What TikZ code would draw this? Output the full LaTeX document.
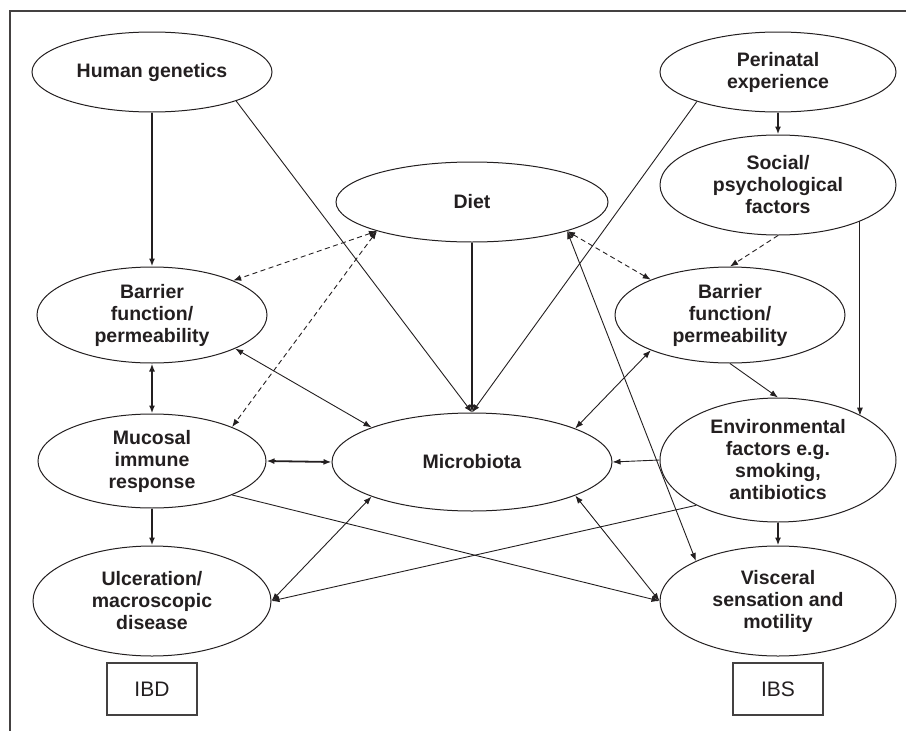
\documentclass[tikz,border=0pt]{standalone}
\usepackage{fontspec}
\setmainfont{Liberation Sans}
\usetikzlibrary{shapes.geometric,arrows.meta}
\definecolor{ink}{HTML}{231F20}
\begin{document}
\begin{tikzpicture}[x=1pt,y=-1pt,
  ell/.style={ellipse, draw=ink, line width=1pt, inner sep=0pt, align=center, text=ink,
    font=\bfseries\fontsize{19.5}{22}\selectfont},
  lbox/.style={rectangle, draw=ink!85, line width=1.1pt, minimum width=90pt, minimum height=52pt,
    inner sep=0pt, text=ink, font=\fontsize{21}{24}\selectfont},
  thn/.style={draw=ink, line width=0.9pt},
  thk/.style={draw=ink, line width=1.8pt},
  dsh/.style={draw=ink, line width=0.9pt, dash pattern=on 5pt off 3.5pt},
  tip/.tip={Latex[length=8pt,width=6pt]},
  >={Latex[length=8pt,width=6pt]}]
\useasboundingbox (0,0) rectangle (906,731);
\draw[line width=2pt, draw=ink!85] (10,731) -- (10,11) -- (906,11);

\node[ell, minimum width=240pt, minimum height=80pt] (hg) at (152,72) {Human genetics};
\node[ell, minimum width=236pt, minimum height=80pt] (peri) at (778,72) {Perinatal\\experience};
\node[ell, minimum width=236pt, minimum height=100pt] (soc) at (778,185) {Social/\\psychological\\factors};
\node[ell, minimum width=272pt, minimum height=80pt] (diet) at (472,202) {Diet};
\node[ell, minimum width=230pt, minimum height=96pt] (bl) at (152,315) {Barrier\\function/\\permeability};
\node[ell, minimum width=230pt, minimum height=96pt] (br) at (730,315) {Barrier\\function/\\permeability};
\node[ell, minimum width=228pt, minimum height=94pt] (muc) at (152,461) {Mucosal\\immune\\response};
\node[ell, minimum width=280pt, minimum height=98pt] (mic) at (472,462) {Microbiota};
\node[ell, minimum width=236pt, minimum height=124pt] (env) at (778,460) {Environmental\\factors e.g.\\smoking,\\antibiotics};
\node[ell, minimum width=238pt, minimum height=110pt] (ulc) at (152,601) {Ulceration/\\macroscopic\\disease};
\node[ell, minimum width=236pt, minimum height=110pt] (vis) at (778,601) {Visceral\\sensation and\\motility};
\node[lbox] (ibd) at (152,689) {IBD};
\node[lbox] (ibs) at (778,689) {IBS};

% thick vertical arrows
\draw[thk,->] (hg.south) -- (bl.north);
\draw[thk,->] (diet.south) -- (mic.north);
\draw[thk,->] (peri.south) -- (soc.north);
\draw[thk,<->] (bl.south) -- (muc.north);
\draw[thk,<->] (muc.east) -- (mic.west);
\draw[thk,->] (muc.south) -- (ulc.north);
\draw[thk,->] (env.south) -- (vis.north);

% thin arrows
\draw[thn,->] (hg.-19) -- (mic.north);
\draw[thn,->] (peri.-160) -- (mic.north);
\draw[thn,->] (soc.-24) -- (soc.-24 |- env.28.5);
\draw[thn,->] (br.south) -- (env.north);
\draw[thn,->] (env.west) -- (mic.east);
\draw[thn,<->] (diet.-17.6) -- (vis.154);
\draw[thn,<->] (bl.-22.3) -- (mic.161.2);
\draw[thn,<->] (br.-156.9) -- (mic.18.8);
\draw[thn,->] (muc.-23.4) -- (vis.west);
\draw[thn,<->] (mic.-161) -- (ulc.east);
\draw[thn,->] (env.-151) -- (ulc.east);
\draw[thn,<->] (mic.-18.8) -- (vis.west);

% dashed arrows
\draw[dsh,<->] (diet.-163.4) -- (bl.23.7);
\draw[dsh,<->] (diet.-163.4) -- (muc.23.4);
\draw[dsh,<->] (diet.-17.6) -- (br.156.3);
\draw[dsh,->] (soc.south) -- (br.north);
\end{tikzpicture}
\end{document}
